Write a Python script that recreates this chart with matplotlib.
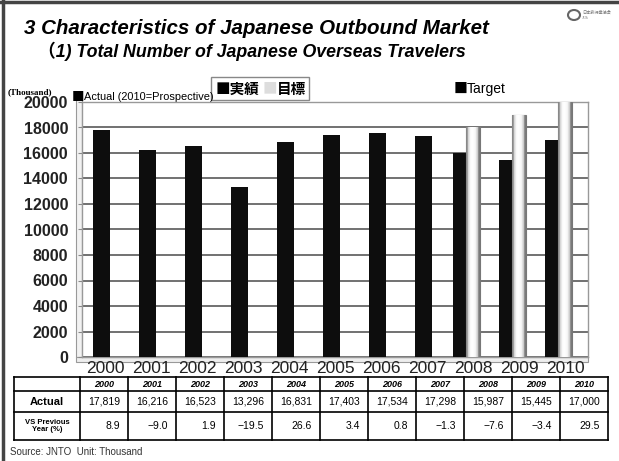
import numpy as np
import matplotlib
matplotlib.use('Agg')
import matplotlib.pyplot as plt
from matplotlib.patches import Rectangle, Ellipse

# Datos de viajeros japoneses al exterior (miles)
years = ['2000', '2001', '2002', '2003', '2004', '2005', '2006', '2007', '2008', '2009', '2010']
actual = [17819, 16216, 16523, 13296, 16831, 17403, 17534, 17298, 15987, 15445, 17000]
target = [None, None, None, None, None, None, None, None, 18000, 19000, 20000]
yoy = ['8.9', '−9.0', '1.9', '−19.5', '26.6', '3.4', '0.8', '−1.3', '−7.6', '−3.4', '29.5']
yticks = list(range(0, 20001, 2000))

plt.rcParams['font.family'] = ['Liberation Sans', 'DejaVu Sans']

fig = plt.figure(figsize=(6.19, 4.61), dpi=100)

# capa de fondo en pixeles para titulos, tabla y marco
bg = fig.add_axes([0, 0, 1, 1])
bg.set_xlim(0, 619)
bg.set_ylim(461, 0)
bg.axis('off')

bg.plot([0, 619], [2.5, 2.5], color='#444444', lw=2.5)
bg.plot([3, 3], [0, 461], color='#444444', lw=2.5)

bg.text(24, 29, '3 Characteristics of Japanese Outbound Market', fontsize=14.8, style='italic',
        fontweight='bold', va='center')
bg.text(38, 51, '（1) Total Number of Japanese Overseas Travelers', fontsize=12.8, style='italic',
        fontweight='bold', family=['Liberation Sans', 'Noto Sans CJK JP'], va='center')

# logo
bg.add_patch(Ellipse((574, 15), 12, 10, fill=False, ec='#666666', lw=1.5))
bg.text(582, 13, '日本旅行業協会', fontsize=3.0, color='#777777', family='Noto Sans CJK JP', va='center')
bg.text(582, 18, 'JATA', fontsize=2.2, color='#999999', va='center')

# leyendas
bg.text(8, 92, '(Thousand)', fontsize=6.5, fontweight='bold', family='Liberation Serif', va='center')
bg.text(72, 97, '■', fontsize=9, family='Noto Sans CJK JP', va='center')
bg.text(84, 97, 'Actual (2010=Prospective)', fontsize=7.9, va='center')
bg.text(454, 89, '■', fontsize=10, family='Noto Sans CJK JP', va='center')
bg.text(467, 89, 'Target', fontsize=10, va='center')
bg.add_patch(Rectangle((211, 77), 98, 23, fill=False, ec='#888888', lw=1))
bg.text(216, 89, '■実績', fontsize=10.5, fontweight='bold', family='Noto Sans CJK JP', va='center')
bg.text(263, 89, '■', fontsize=10.5, color='#dddddd', family='Noto Sans CJK JP', va='center')
bg.text(277, 89, '目標', fontsize=10.5, fontweight='bold', family='Noto Sans CJK JP', va='center')

# tabla inferior
col_x = [14, 80] + [80 + 48 * (k + 1) for k in range(11)]
row_y = [377, 391, 412, 440]
for y in row_y:
    bg.plot([col_x[0], col_x[-1]], [y, y], color='black', lw=1.2)
for x in col_x:
    bg.plot([x, x], [row_y[0], row_y[-1]], color='black', lw=1.2)
for i, yr in enumerate(years):
    cx = (col_x[i + 1] + col_x[i + 2]) / 2
    bg.text(cx, (row_y[0] + row_y[1]) / 2, yr, fontsize=6.5, fontweight='bold', style='italic',
            ha='center', va='center')
    bg.text(cx, (row_y[1] + row_y[2]) / 2, f'{actual[i]:,}', fontsize=7.5, ha='center', va='center')
    bg.text(col_x[i + 2] - 8, (row_y[2] + row_y[3]) / 2, yoy[i], fontsize=7.5, ha='right', va='center')
bg.text(47, (row_y[1] + row_y[2]) / 2, 'Actual', fontsize=8, fontweight='bold', ha='center', va='center')
bg.text(47, (row_y[2] + row_y[3]) / 2, 'VS Previous\nYear (%)', fontsize=5.5, fontweight='bold',
        ha='center', va='center', linespacing=1.1)

bg.text(10, 452, 'Source: JNTO  Unit: Thousand', fontsize=7, color='#333333', va='center')

# pared y piso en perspectiva
bg.add_patch(Rectangle((76, 92), 6, 265, fc='#f2f2f2', ec='#999999', lw=0.8))
bg.add_patch(Rectangle((76, 357), 512, 5, fc='#eeeeee', ec='#999999', lw=0.8))

# grafico de barras
ax = fig.add_axes([82 / 619, 1 - 357 / 461, 506 / 619, 255 / 461])
x = np.arange(len(years))
has_target = np.array([t is not None for t in target])
black_x = x + np.where(has_target, -0.3, -0.08)
black_w = np.where(has_target, 0.28, 0.36)
ax.bar(black_x, actual, width=black_w, color='#0d0d0d', zorder=3)
ax.bar(black_x + black_w / 2 - 0.03, actual, width=0.06, color='#555555', zorder=2.9)

grad = np.array([[0.55, 0.25, 0.05, 0.0, 0.02, 0.1, 0.3, 0.6]])
for xi, t in zip(x, target):
    if t is None:
        continue
    bars = ax.bar(xi + 0.0, t, width=0.3, color='white', ec='#777777', lw=0.8, zorder=3)
    b = bars[0]
    im = ax.imshow(grad, cmap='Greys', vmin=0, vmax=1, aspect='auto', zorder=3.1,
                   extent=(b.get_x(), b.get_x() + b.get_width(), 0, t))
    im.set_clip_path(b)

ax.set_xlim(-0.5, 10.5)
ax.set_ylim(0, 20000)
ax.set_yticks(yticks)
ax.set_yticklabels([str(v) for v in yticks], fontsize=11.5, fontweight='bold', color='#222222')
ax.set_xticks(x)
ax.set_xticklabels(years, fontsize=12.5, color='#222222')
ax.tick_params(axis='x', length=0, pad=3)
ax.tick_params(axis='y', length=3, pad=7, color='#888888')
ax.grid(axis='y', color='#666666', lw=1.3, zorder=1)
for s in ax.spines.values():
    s.set_color('#999999')
    s.set_linewidth(1)

fig.savefig('out.png', dpi=100)
